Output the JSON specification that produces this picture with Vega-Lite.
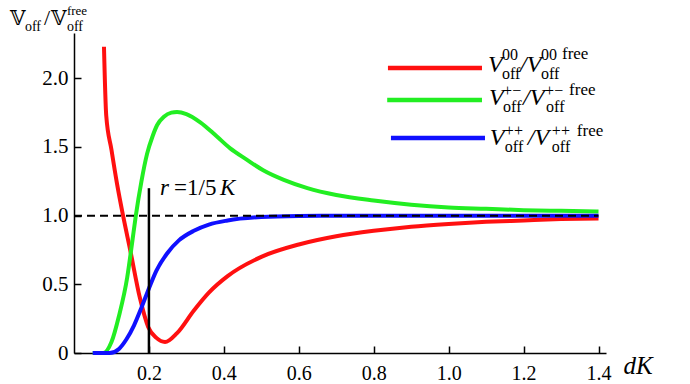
{
  "$schema": "https://vega.github.io/schema/vega-lite/v6.json",
  "width": 532,
  "height": 320,
  "autosize": {"type": "none"},
  "padding": {"left": 74, "top": 33, "right": 84, "bottom": 31},
  "background": "white",
  "config": {
    "view": {"stroke": null},
    "axis": {"labelFont": "Liberation Serif", "labelFontSize": 20, "labelColor": "black", "domainColor": "black", "tickColor": "black", "grid": false, "labelOverlap": false, "labelFlush": false, "labelBound": false, "ticks": true, "tickWidth": 1.5}
  },
  "layer": [
    {
      "data": {"values": [
        {"series": "00", "x": 0.08, "y": 2.23},
        {"series": "00", "x": 0.086, "y": 1.73},
        {"series": "00", "x": 0.1, "y": 1.48},
        {"series": "00", "x": 0.115, "y": 1.23},
        {"series": "00", "x": 0.131, "y": 1.0},
        {"series": "00", "x": 0.15, "y": 0.75},
        {"series": "00", "x": 0.176, "y": 0.4},
        {"series": "00", "x": 0.198, "y": 0.19},
        {"series": "00", "x": 0.22, "y": 0.11},
        {"series": "00", "x": 0.243, "y": 0.08},
        {"series": "00", "x": 0.275, "y": 0.145},
        {"series": "00", "x": 0.32, "y": 0.31},
        {"series": "00", "x": 0.36, "y": 0.44},
        {"series": "00", "x": 0.41, "y": 0.56},
        {"series": "00", "x": 0.5, "y": 0.7},
        {"series": "00", "x": 0.6, "y": 0.79},
        {"series": "00", "x": 0.7, "y": 0.85},
        {"series": "00", "x": 0.8, "y": 0.89},
        {"series": "00", "x": 0.9, "y": 0.92},
        {"series": "00", "x": 1.0, "y": 0.94},
        {"series": "00", "x": 1.1, "y": 0.955},
        {"series": "00", "x": 1.2, "y": 0.965},
        {"series": "00", "x": 1.3, "y": 0.975},
        {"series": "00", "x": 1.4, "y": 0.98},
        {"series": "+-", "x": 0.05, "y": 0.0},
        {"series": "+-", "x": 0.078, "y": 0.0},
        {"series": "+-", "x": 0.1, "y": 0.08},
        {"series": "+-", "x": 0.12, "y": 0.27},
        {"series": "+-", "x": 0.142, "y": 0.55},
        {"series": "+-", "x": 0.155, "y": 0.8},
        {"series": "+-", "x": 0.165, "y": 1.0},
        {"series": "+-", "x": 0.18, "y": 1.25},
        {"series": "+-", "x": 0.195, "y": 1.45},
        {"series": "+-", "x": 0.21, "y": 1.58},
        {"series": "+-", "x": 0.222, "y": 1.66},
        {"series": "+-", "x": 0.24, "y": 1.72},
        {"series": "+-", "x": 0.26, "y": 1.75},
        {"series": "+-", "x": 0.275, "y": 1.755},
        {"series": "+-", "x": 0.3, "y": 1.74},
        {"series": "+-", "x": 0.337, "y": 1.68},
        {"series": "+-", "x": 0.38, "y": 1.58},
        {"series": "+-", "x": 0.417, "y": 1.49},
        {"series": "+-", "x": 0.46, "y": 1.41},
        {"series": "+-", "x": 0.505, "y": 1.33},
        {"series": "+-", "x": 0.56, "y": 1.26},
        {"series": "+-", "x": 0.623, "y": 1.2},
        {"series": "+-", "x": 0.7, "y": 1.15},
        {"series": "+-", "x": 0.8, "y": 1.11},
        {"series": "+-", "x": 0.9, "y": 1.08},
        {"series": "+-", "x": 1.0, "y": 1.06},
        {"series": "+-", "x": 1.1, "y": 1.05},
        {"series": "+-", "x": 1.2, "y": 1.04},
        {"series": "+-", "x": 1.3, "y": 1.035},
        {"series": "+-", "x": 1.4, "y": 1.03},
        {"series": "++", "x": 0.05, "y": 0.0},
        {"series": "++", "x": 0.095, "y": 0.0},
        {"series": "++", "x": 0.12, "y": 0.03},
        {"series": "++", "x": 0.14, "y": 0.1},
        {"series": "++", "x": 0.16, "y": 0.2},
        {"series": "++", "x": 0.18, "y": 0.33},
        {"series": "++", "x": 0.2, "y": 0.47},
        {"series": "++", "x": 0.22, "y": 0.6},
        {"series": "++", "x": 0.25, "y": 0.73},
        {"series": "++", "x": 0.28, "y": 0.82},
        {"series": "++", "x": 0.32, "y": 0.89},
        {"series": "++", "x": 0.36, "y": 0.935},
        {"series": "++", "x": 0.41, "y": 0.965},
        {"series": "++", "x": 0.5, "y": 0.99},
        {"series": "++", "x": 0.6, "y": 0.998},
        {"series": "++", "x": 0.7, "y": 1.0},
        {"series": "++", "x": 1.0, "y": 1.0},
        {"series": "++", "x": 1.4, "y": 1.0}
      ]},
      "mark": {"type": "line", "strokeWidth": 4, "interpolate": "monotone"},
      "encoding": {
        "x": {"field": "x", "type": "quantitative",
          "scale": {"domain": [0, 1.42], "nice": false, "zero": false},
          "axis": {
            "values": [0.2, 0.4, 0.6, 0.8, 1.0, 1.2, 1.4],
            "format": ".1f",
            "labelOverlap": false, "labelFlush": false,
            "tickSize": -7,
            "labelPadding": 17,
            "domainWidth": 1.5,
            "title": "dK", "titleFont": "Liberation Serif", "titleFontStyle": "italic", "titleFontWeight": "normal", "titleFontSize": 25,
            "titleAlign": "left", "titleBaseline": "alphabetic", "titleX": 549, "titleY": 20, "titleAngle": 0
          }
        },
        "y": {"field": "y", "type": "quantitative",
          "scale": {"domain": [0, 2.33], "nice": false, "zero": false},
          "axis": {
            "values": [0, 0.5, 1.0, 1.5, 2.0],
            "labelExpr": "datum.value==0 ? '0' : format(datum.value,'.1f')",
            "labelOverlap": false, "labelFlush": false, "labelFontSize": 21,
            "tickSize": -7,
            "labelPadding": 13,
            "domainWidth": 1.5,
            "title": null
          }
        },
        "color": {"field": "series", "type": "nominal",
          "scale": {"domain": ["00", "+-", "++"], "range": ["#ff1010", "#22ee22", "#1010ff"]},
          "legend": null},
        "order": {"field": "x", "type": "quantitative"}
      }
    },
    {
      "data": {"values": [{}]},
      "mark": {"type": "rule", "strokeDash": [8, 5], "strokeWidth": 2, "color": "black"},
      "encoding": {"x": {"datum": 0, "type": "quantitative"}, "x2": {"datum": 1.4}, "y": {"datum": 1, "type": "quantitative"}}
    },
    {
      "data": {"values": [{}]},
      "mark": {"type": "rule", "strokeWidth": 2.5, "color": "black"},
      "encoding": {"x": {"datum": 0.2, "type": "quantitative"}, "y": {"datum": 0, "type": "quantitative"}, "y2": {"datum": 1.2}}
    },
    {
      "data": {"values": [{}]},
      "mark": {"type": "rule", "strokeWidth": 4.5, "color": "#ff1010"},
      "encoding": {"x": {"datum": 0.838, "type": "quantitative"}, "x2": {"datum": 1.089}, "y": {"datum": 2.075, "type": "quantitative"}}
    },
    {
      "data": {"values": [{}]},
      "mark": {"type": "rule", "strokeWidth": 4.5, "color": "#22ee22"},
      "encoding": {"x": {"datum": 0.836, "type": "quantitative"}, "x2": {"datum": 1.089}, "y": {"datum": 1.842, "type": "quantitative"}}
    },
    {
      "data": {"values": [{}]},
      "mark": {"type": "rule", "strokeWidth": 4.5, "color": "#1010ff"},
      "encoding": {"x": {"datum": 0.846, "type": "quantitative"}, "x2": {"datum": 1.097}, "y": {"datum": 1.565, "type": "quantitative"}}
    },
    {"data": {"values": [{}]}, "mark": {"type": "text", "font": "Liberation Serif", "fontSize": 24, "fontStyle": "italic", "align": "left", "baseline": "alphabetic", "dx": 0, "dy": 0}, "encoding": {"x": {"datum": 1.105, "type": "quantitative"}, "y": {"datum": 2.046, "type": "quantitative"}, "text": {"value": "V"}}},
    {"data": {"values": [{}]}, "mark": {"type": "text", "font": "Liberation Serif", "fontSize": 16, "align": "left", "baseline": "alphabetic", "dx": 14, "dy": 7}, "encoding": {"x": {"datum": 1.105, "type": "quantitative"}, "y": {"datum": 2.046, "type": "quantitative"}, "text": {"value": "off"}}},
    {"data": {"values": [{}]}, "mark": {"type": "text", "font": "Liberation Serif", "fontSize": 16, "align": "left", "baseline": "alphabetic", "dx": 14, "dy": -12}, "encoding": {"x": {"datum": 1.105, "type": "quantitative"}, "y": {"datum": 2.046, "type": "quantitative"}, "text": {"value": "00"}}},
    {"data": {"values": [{}]}, "mark": {"type": "text", "font": "Liberation Serif", "fontSize": 24, "fontStyle": "italic", "align": "left", "baseline": "alphabetic", "dx": 32, "dy": 0}, "encoding": {"x": {"datum": 1.105, "type": "quantitative"}, "y": {"datum": 2.046, "type": "quantitative"}, "text": {"value": "/V"}}},
    {"data": {"values": [{}]}, "mark": {"type": "text", "font": "Liberation Serif", "fontSize": 16, "align": "left", "baseline": "alphabetic", "dx": 53, "dy": 7}, "encoding": {"x": {"datum": 1.105, "type": "quantitative"}, "y": {"datum": 2.046, "type": "quantitative"}, "text": {"value": "off"}}},
    {"data": {"values": [{}]}, "mark": {"type": "text", "font": "Liberation Serif", "fontSize": 16, "align": "left", "baseline": "alphabetic", "dx": 53, "dy": -12}, "encoding": {"x": {"datum": 1.105, "type": "quantitative"}, "y": {"datum": 2.046, "type": "quantitative"}, "text": {"value": "00"}}},
    {"data": {"values": [{}]}, "mark": {"type": "text", "font": "Liberation Serif", "fontSize": 17, "align": "left", "baseline": "alphabetic", "dx": 74, "dy": -13}, "encoding": {"x": {"datum": 1.105, "type": "quantitative"}, "y": {"datum": 2.046, "type": "quantitative"}, "text": {"value": "free"}}},
    {"data": {"values": [{}]}, "mark": {"type": "text", "font": "Liberation Serif", "fontSize": 24, "fontStyle": "italic", "align": "left", "baseline": "alphabetic", "dx": 0, "dy": 0}, "encoding": {"x": {"datum": 1.108, "type": "quantitative"}, "y": {"datum": 1.806, "type": "quantitative"}, "text": {"value": "V"}}},
    {"data": {"values": [{}]}, "mark": {"type": "text", "font": "Liberation Serif", "fontSize": 16, "align": "left", "baseline": "alphabetic", "dx": 14, "dy": 7}, "encoding": {"x": {"datum": 1.108, "type": "quantitative"}, "y": {"datum": 1.806, "type": "quantitative"}, "text": {"value": "off"}}},
    {"data": {"values": [{}]}, "mark": {"type": "text", "font": "Liberation Serif", "fontSize": 16, "align": "left", "baseline": "alphabetic", "dx": 14, "dy": -9}, "encoding": {"x": {"datum": 1.108, "type": "quantitative"}, "y": {"datum": 1.806, "type": "quantitative"}, "text": {"value": "+−"}}},
    {"data": {"values": [{}]}, "mark": {"type": "text", "font": "Liberation Serif", "fontSize": 24, "fontStyle": "italic", "align": "left", "baseline": "alphabetic", "dx": 34, "dy": 0}, "encoding": {"x": {"datum": 1.108, "type": "quantitative"}, "y": {"datum": 1.806, "type": "quantitative"}, "text": {"value": "/V"}}},
    {"data": {"values": [{}]}, "mark": {"type": "text", "font": "Liberation Serif", "fontSize": 16, "align": "left", "baseline": "alphabetic", "dx": 57, "dy": 7}, "encoding": {"x": {"datum": 1.108, "type": "quantitative"}, "y": {"datum": 1.806, "type": "quantitative"}, "text": {"value": "off"}}},
    {"data": {"values": [{}]}, "mark": {"type": "text", "font": "Liberation Serif", "fontSize": 16, "align": "left", "baseline": "alphabetic", "dx": 56, "dy": -9}, "encoding": {"x": {"datum": 1.108, "type": "quantitative"}, "y": {"datum": 1.806, "type": "quantitative"}, "text": {"value": "+−"}}},
    {"data": {"values": [{}]}, "mark": {"type": "text", "font": "Liberation Serif", "fontSize": 17, "align": "left", "baseline": "alphabetic", "dx": 80, "dy": -10}, "encoding": {"x": {"datum": 1.108, "type": "quantitative"}, "y": {"datum": 1.806, "type": "quantitative"}, "text": {"value": "free"}}},
    {"data": {"values": [{}]}, "mark": {"type": "text", "font": "Liberation Serif", "fontSize": 24, "fontStyle": "italic", "align": "left", "baseline": "alphabetic", "dx": 0, "dy": 0}, "encoding": {"x": {"datum": 1.11, "type": "quantitative"}, "y": {"datum": 1.5145, "type": "quantitative"}, "text": {"value": "V"}}},
    {"data": {"values": [{}]}, "mark": {"type": "text", "font": "Liberation Serif", "fontSize": 16, "align": "left", "baseline": "alphabetic", "dx": 15, "dy": 7}, "encoding": {"x": {"datum": 1.11, "type": "quantitative"}, "y": {"datum": 1.5145, "type": "quantitative"}, "text": {"value": "off"}}},
    {"data": {"values": [{}]}, "mark": {"type": "text", "font": "Liberation Serif", "fontSize": 16, "align": "left", "baseline": "alphabetic", "dx": 15, "dy": -9}, "encoding": {"x": {"datum": 1.11, "type": "quantitative"}, "y": {"datum": 1.5145, "type": "quantitative"}, "text": {"value": "++"}}},
    {"data": {"values": [{}]}, "mark": {"type": "text", "font": "Liberation Serif", "fontSize": 24, "fontStyle": "italic", "align": "left", "baseline": "alphabetic", "dx": 38, "dy": 0}, "encoding": {"x": {"datum": 1.11, "type": "quantitative"}, "y": {"datum": 1.5145, "type": "quantitative"}, "text": {"value": "/V"}}},
    {"data": {"values": [{}]}, "mark": {"type": "text", "font": "Liberation Serif", "fontSize": 16, "align": "left", "baseline": "alphabetic", "dx": 62, "dy": 7}, "encoding": {"x": {"datum": 1.11, "type": "quantitative"}, "y": {"datum": 1.5145, "type": "quantitative"}, "text": {"value": "off"}}},
    {"data": {"values": [{}]}, "mark": {"type": "text", "font": "Liberation Serif", "fontSize": 16, "align": "left", "baseline": "alphabetic", "dx": 62, "dy": -9}, "encoding": {"x": {"datum": 1.11, "type": "quantitative"}, "y": {"datum": 1.5145, "type": "quantitative"}, "text": {"value": "++"}}},
    {"data": {"values": [{}]}, "mark": {"type": "text", "font": "Liberation Serif", "fontSize": 17, "align": "left", "baseline": "alphabetic", "dx": 87, "dy": -9}, "encoding": {"x": {"datum": 1.11, "type": "quantitative"}, "y": {"datum": 1.5145, "type": "quantitative"}, "text": {"value": "free"}}},
    {"data": {"values": [{}]}, "mark": {"type": "text", "font": "DejaVu Serif, DejaVu Sans", "fontSize": 20, "align": "left", "baseline": "alphabetic", "dx": 0, "dy": 0}, "encoding": {"x": {"datum": -0.171, "type": "quantitative"}, "y": {"datum": 2.388, "type": "quantitative"}, "text": {"value": "𝕍"}}},
    {"data": {"values": [{}]}, "mark": {"type": "text", "font": "Liberation Serif", "fontSize": 14, "align": "left", "baseline": "alphabetic", "dx": 15, "dy": 6}, "encoding": {"x": {"datum": -0.171, "type": "quantitative"}, "y": {"datum": 2.388, "type": "quantitative"}, "text": {"value": "off"}}},
    {"data": {"values": [{}]}, "mark": {"type": "text", "font": "Liberation Serif", "fontSize": 22, "align": "left", "baseline": "alphabetic", "dx": 34, "dy": 0}, "encoding": {"x": {"datum": -0.171, "type": "quantitative"}, "y": {"datum": 2.388, "type": "quantitative"}, "text": {"value": "/"}}},
    {"data": {"values": [{}]}, "mark": {"type": "text", "font": "DejaVu Serif, DejaVu Sans", "fontSize": 20, "align": "left", "baseline": "alphabetic", "dx": 41, "dy": 0}, "encoding": {"x": {"datum": -0.171, "type": "quantitative"}, "y": {"datum": 2.388, "type": "quantitative"}, "text": {"value": "𝕍"}}},
    {"data": {"values": [{}]}, "mark": {"type": "text", "font": "Liberation Serif", "fontSize": 14, "align": "left", "baseline": "alphabetic", "dx": 57, "dy": 6}, "encoding": {"x": {"datum": -0.171, "type": "quantitative"}, "y": {"datum": 2.388, "type": "quantitative"}, "text": {"value": "off"}}},
    {"data": {"values": [{}]}, "mark": {"type": "text", "font": "Liberation Serif", "fontSize": 13, "align": "left", "baseline": "alphabetic", "dx": 57, "dy": -10}, "encoding": {"x": {"datum": -0.171, "type": "quantitative"}, "y": {"datum": 2.388, "type": "quantitative"}, "text": {"value": "free"}}},
    {"data": {"values": [{}]}, "mark": {"type": "text", "font": "Liberation Serif", "fontSize": 23, "fontStyle": "italic", "align": "left", "baseline": "alphabetic", "dx": 0, "dy": 0}, "encoding": {"x": {"datum": 0.2296, "type": "quantitative"}, "y": {"datum": 1.15, "type": "quantitative"}, "text": {"value": "r"}}},
    {"data": {"values": [{}]}, "mark": {"type": "text", "font": "Liberation Serif", "fontSize": 23, "align": "left", "baseline": "alphabetic", "dx": 14, "dy": 0}, "encoding": {"x": {"datum": 0.2296, "type": "quantitative"}, "y": {"datum": 1.15, "type": "quantitative"}, "text": {"value": "=1/5"}}},
    {"data": {"values": [{}]}, "mark": {"type": "text", "font": "Liberation Serif", "fontSize": 23, "fontStyle": "italic", "align": "left", "baseline": "alphabetic", "dx": 60, "dy": 0}, "encoding": {"x": {"datum": 0.2296, "type": "quantitative"}, "y": {"datum": 1.15, "type": "quantitative"}, "text": {"value": "K"}}}
  ]
}
